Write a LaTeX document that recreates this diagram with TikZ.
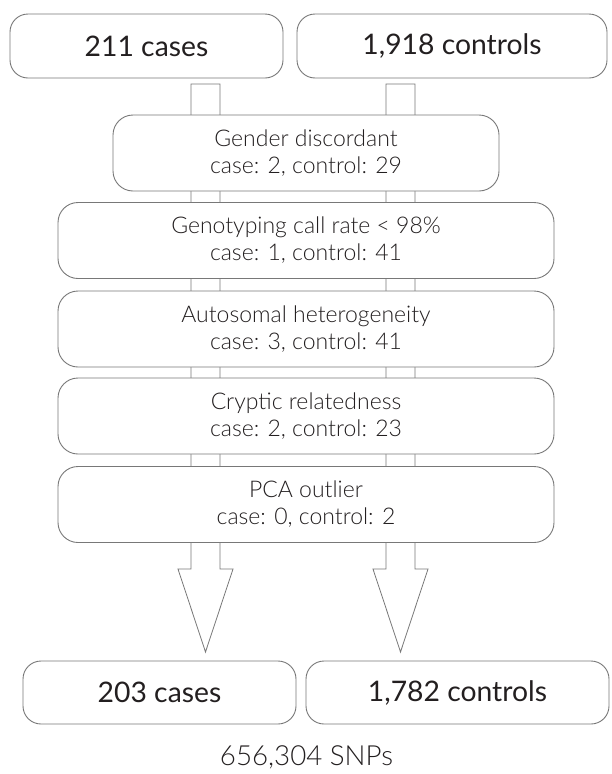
\documentclass[tikz,border=0pt]{standalone}
\usepackage{fontspec}
\setmainfont{Lato}
\newfontfamily\lightfont{Lato Light}
\usetikzlibrary{positioning,calc}

\definecolor{boxgray}{RGB}{120,120,120}
\definecolor{inkgray}{RGB}{35,31,32}

\begin{document}
\begin{tikzpicture}[x=1pt,y=1pt,yscale=-1,xscale=1,
    cohort/.style={draw=boxgray,line width=0.9pt,rounded corners=18pt,fill=white,
        text=inkgray,font=\fontsize{28.3}{33}\selectfont,minimum height=64pt,inner sep=0pt},
    filter/.style={draw=boxgray,line width=0.9pt,rounded corners=20pt,fill=white,
        text=inkgray,font=\lightfont\fontsize{23}{27}\selectfont,align=center,
        minimum height=76pt,inner sep=0pt},
    flow/.style={draw=boxgray,line width=0.8pt,fill=white,line join=miter}]
    \useasboundingbox (0,0) rectangle (611,774);

    %Shape: Block arrows [id:cases and controls]
    \coordinate (casetop) at (205.5,84);
    \coordinate (casetip) at (205.5,652);
    \coordinate (ctrltop) at (400.5,84);
    \coordinate (ctrltip) at (400.5,652);
    \foreach \t/\p in {casetop/casetip,ctrltop/ctrltip}
        \draw[flow] ($(\t)+(-14.5,0)$) -- ($(\t)+(14.5,0)$) -- ($(\p)+(14.5,-83)$)
            -- ($(\p)+(27.5,-83)$) -- (\p) -- ($(\p)+(-27.5,-83)$)
            -- ($(\p)+(-14.5,-83)$) -- cycle;

    % Text Node
    \node[cohort,minimum width=273pt] (cases) at (146.5,46) {211 cases};
    % Text Node
    \node[cohort,minimum width=310pt] (controls) at (452,46) {1,918 controls};

    % Text Node
    \node[filter,minimum width=386pt] (gender) at (306,153)
        {Gender discordant\\case: 2, control: 29};
    % Text Node
    \node[filter,minimum width=496pt] (callrate) at (306,240.5)
        {Genotyping call rate < 98\%\\case: 1, control: 41};
    % Text Node
    \node[filter,minimum width=496pt] (hetero) at (306,329)
        {Autosomal heterogeneity\\case: 3, control: 41};
    % Text Node
    \node[filter,minimum width=496pt] (cryptic) at (306,416)
        {Cryptic relatedness\\case: 2, control: 23};
    % Text Node
    \node[filter,minimum width=496pt] (pca) at (306,504.5)
        {PCA outlier\\case: 0, control: 2};

    % Text Node
    \node[cohort,minimum width=273pt,minimum height=63pt] (finalcases) at (159.5,692.5) {203 cases};
    % Text Node
    \node[cohort,minimum width=303pt,minimum height=63pt] (finalctrls) at (457.5,692.5) {1,782 controls};

    % Text Node
    \node[text=inkgray,font=\lightfont\fontsize{27.7}{32}\selectfont,anchor=base,inner sep=0pt]
        (snps) at (306.5,765) {656,304 SNPs};

\end{tikzpicture}
\end{document}
